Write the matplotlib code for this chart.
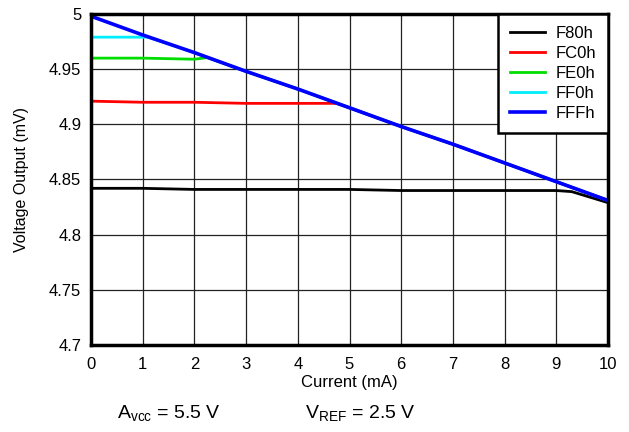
import matplotlib.pyplot as plt
import numpy as np

plt.rcParams['font.family'] = ['Liberation Sans', 'DejaVu Sans']

# data (current in mA, voltage output)
current = [0, 1, 2, 3, 4, 5, 6, 7, 8, 9, 10]
fff = [4.998, 4.981, 4.965, 4.948, 4.932, 4.915, 4.898, 4.882, 4.865, 4.848, 4.831]

ff0_x = [0, 1.0, 1.1, 2, 3, 4, 5, 6, 7, 8, 9, 10]
ff0 = [4.979, 4.979, 4.979, 4.965, 4.948, 4.932, 4.915, 4.898, 4.882, 4.865, 4.848, 4.831]

fe0_x = [0, 1, 2, 2.25, 3, 4, 5, 6, 7, 8, 9, 10]
fe0 = [4.960, 4.960, 4.959, 4.9605, 4.948, 4.932, 4.915, 4.898, 4.882, 4.865, 4.848, 4.831]

fc0_x = [0, 1, 2, 3, 4, 4.75, 5, 6, 7, 8, 9, 10]
fc0 = [4.921, 4.920, 4.920, 4.919, 4.919, 4.919, 4.915, 4.898, 4.882, 4.865, 4.848, 4.831]

f80_x = [0, 1, 2, 3, 4, 5, 6, 7, 8, 9, 9.3, 10]
f80 = [4.842, 4.842, 4.841, 4.841, 4.841, 4.841, 4.840, 4.840, 4.840, 4.840, 4.839, 4.829]

fig = plt.figure(figsize=(6.29, 4.32), dpi=100)
ax = fig.add_axes([0.1447, 0.2014, 0.8219, 0.7662])

ax.plot(f80_x, f80, color='black', lw=2, label='F80h')
ax.plot(fc0_x, fc0, color='#ff0000', lw=2, label='FC0h')
ax.plot(fe0_x, fe0, color='#00dd00', lw=2, label='FE0h')
ax.plot(ff0_x, ff0, color='#00eeff', lw=2, label='FF0h')
ax.plot(current, fff, color='#0000ff', lw=2.6, label='FFFh')

ax.set_xlim(0, 10)
ax.set_ylim(4.7, 5.0)
ax.set_xticks(np.arange(0, 11, 1))
ax.set_yticks([4.7, 4.75, 4.8, 4.85, 4.9, 4.95, 5.0])
ax.set_yticklabels(['4.7', '4.75', '4.8', '4.85', '4.9', '4.95', '5'])
ax.grid(True, color='#222222', lw=0.9)
ax.tick_params(axis='x', length=0, labelsize=12, pad=9)
ax.tick_params(axis='y', length=0, labelsize=12, pad=7)
for s in ax.spines.values():
    s.set_linewidth(2.5)

ax.set_xlabel('Current (mA)', fontsize=12, labelpad=2)
ax.set_ylabel('Voltage Output (mV)', fontsize=11.5, labelpad=14)

leg = ax.legend(loc='upper right', fontsize=12, fancybox=False, framealpha=1,
                edgecolor='black', borderaxespad=0, handlelength=2.1,
                labelspacing=0.3, borderpad=0.72, handletextpad=0.65)
leg.get_frame().set_linewidth(1.8)

fig.text(0.186, 0.03, r'A$_{\mathregular{vcc}}$ = 5.5 V', fontsize=14)
fig.text(0.485, 0.03, r'V$_{\mathregular{REF}}$ = 2.5 V', fontsize=14)

fig.savefig('out.png', dpi=100)
